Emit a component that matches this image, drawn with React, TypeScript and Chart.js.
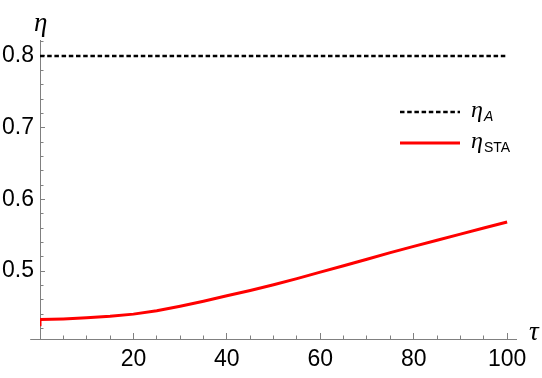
import React, { useEffect, useRef } from "react";
import { Chart, registerables } from "chart.js";

Chart.register(...registerables);

// ---- data ----
const tauSTA = [0, 0, 5, 10, 15, 20, 25, 30, 35, 40, 45, 50, 55, 60, 65, 70, 75, 80, 85, 90, 95, 100];
const etaSTA = [0.423, 0.4325, 0.4333, 0.4348, 0.437, 0.44, 0.4447, 0.451, 0.458, 0.4655, 0.473, 0.481, 0.4895, 0.4985, 0.5075, 0.5165, 0.5257, 0.5345, 0.543, 0.5515, 0.56, 0.5685];
const tauA = [0, 100];
const etaA = [0.8, 0.8];

const xMajorTicks = [20, 40, 60, 80, 100];
const xMinorTicks = [5, 10, 15, 25, 30, 35, 45, 50, 55, 65, 70, 75, 85, 90, 95];
const yMajorTicks = [0.5, 0.6, 0.7, 0.8];
const yTickLabels = ["0.5", "0.6", "0.7", "0.8"];
const yMinorTicks = [0.42, 0.44, 0.46, 0.48, 0.52, 0.54, 0.56, 0.58, 0.62, 0.64, 0.66, 0.68, 0.72, 0.74, 0.76, 0.78, 0.82];

const legendLabels = [
  { main: "η", sub: "A", subItalic: true },
  { main: "η", sub: "STA", subItalic: false },
];

const X_MIN = 0;
const X_MAX = 101.9;
const X_AXIS_START = -2.1;
const Y_MIN = 0.4053;
const Y_MAX = 0.8223;

const AXIS_GRAY = "#808080";
const TICK_FONT = { family: "'Liberation Sans', Arial, sans-serif", size: 23 };

const decorPlugin = {
  id: "decor",
  afterDraw(chart: any) {
    const ctx = chart.ctx as CanvasRenderingContext2D;
    const xs = chart.scales.x;
    const ys = chart.scales.y;
    ctx.save();
    // extension of x axis to the left of the y axis
    const yb = ys.getPixelForValue(Y_MIN);
    ctx.strokeStyle = AXIS_GRAY;
    ctx.lineWidth = 1;
    ctx.beginPath();
    ctx.moveTo(xs.getPixelForValue(X_AXIS_START), Math.round(yb) + 0.5);
    ctx.lineTo(xs.getPixelForValue(X_MIN), Math.round(yb) + 0.5);
    ctx.stroke();

    // axis titles
    ctx.fillStyle = "#000";
    ctx.textAlign = "left";
    ctx.textBaseline = "alphabetic";
    ctx.font = "italic 27px 'Liberation Serif', serif";
    ctx.fillText("η", 34, 31);
    ctx.fillText("τ", 529, 340);

    // legend
    const ds = chart.data.datasets;
    const rows = [112, 143];
    rows.forEach((ry, i) => {
      const d = ds[i];
      ctx.beginPath();
      ctx.strokeStyle = d.borderColor;
      ctx.lineWidth = d.borderWidth;
      ctx.setLineDash(d.borderDash || []);
      ctx.moveTo(400, ry);
      ctx.lineTo(460, ry);
      ctx.stroke();
      ctx.setLineDash([]);
      const lab = legendLabels[i];
      ctx.font = "italic 24px 'Liberation Serif', serif";
      ctx.fillStyle = "#000";
      ctx.fillText(lab.main, 471, ry + 5);
      const w = ctx.measureText(lab.main).width;
      ctx.font = (lab.subItalic ? "italic " : "") + "14px 'Liberation Sans', Arial, sans-serif";
      ctx.fillText(lab.sub, 471 + w + 1, ry + 9);
    });
    ctx.restore();
  },
};

export default function App() {
  const ref = useRef<HTMLCanvasElement | null>(null);
  useEffect(() => {
    const canvas = ref.current;
    if (!canvas) return;
    const chart = new Chart(canvas, {
      type: "line",
      data: {
        datasets: [
          {
            label: "ηA",
            data: tauA.map((x, i) => ({ x, y: etaA[i] })),
            borderColor: "#000000",
            borderWidth: 2.5,
            borderDash: [4.5, 2.7],
            pointRadius: 0,
            tension: 0,
            xAxisID: "x",
            yAxisID: "y",
          },
          {
            label: "ηSTA",
            data: tauSTA.map((x, i) => ({ x, y: etaSTA[i] })),
            borderColor: "#ff0000",
            borderWidth: 3,
            pointRadius: 0,
            tension: 0,
            xAxisID: "x",
            yAxisID: "y",
          },
        ],
      },
      options: {
        responsive: false,
        animation: false,
        events: [],
        layout: { padding: { top: 40, right: 26, left: 0, bottom: 0 } },
        plugins: { legend: { display: false }, tooltip: { enabled: false } },
        scales: {
          x: {
            type: "linear",
            position: "bottom",
            weight: 1,
            min: X_MIN,
            max: X_MAX,
            afterFit: (s: any) => {
              s.height = 39;
            },
            afterBuildTicks: (s: any) => {
              s.ticks = xMajorTicks.map((v) => ({ value: v }));
            },
            grid: {
              drawOnChartArea: false,
              drawTicks: true,
              tickLength: -6,
              tickColor: AXIS_GRAY,
              tickWidth: 1,
              color: AXIS_GRAY,
            },
            border: { display: true, color: AXIS_GRAY, width: 1 },
            ticks: {
              padding: 13,
              color: "#000",
              font: TICK_FONT,
              autoSkip: false,
              maxRotation: 0,
              callback: (v: any) => String(v),
            },
          },
          xMinor: {
            type: "linear",
            position: "bottom",
            weight: 0,
            min: X_MIN,
            max: X_MAX,
            afterFit: (s: any) => {
              s.height = 0;
            },
            afterBuildTicks: (s: any) => {
              s.ticks = xMinorTicks.map((v) => ({ value: v }));
            },
            grid: {
              drawOnChartArea: false,
              drawTicks: true,
              tickLength: -3.5,
              tickColor: AXIS_GRAY,
              tickWidth: 1,
            },
            border: { display: false },
            ticks: { display: false, autoSkip: false },
          },
          y: {
            type: "linear",
            position: "left",
            weight: 1,
            min: Y_MIN,
            max: Y_MAX,
            afterFit: (s: any) => {
              s.width = 40;
            },
            afterBuildTicks: (s: any) => {
              s.ticks = yMajorTicks.map((v) => ({ value: v }));
            },
            grid: {
              drawOnChartArea: false,
              drawTicks: true,
              tickLength: -5,
              tickColor: AXIS_GRAY,
              tickWidth: 1,
              color: AXIS_GRAY,
            },
            border: { display: true, color: AXIS_GRAY, width: 1 },
            ticks: {
              padding: 11,
              color: "#000",
              font: TICK_FONT,
              autoSkip: false,
              callback: (v: any) => {
                const i = yMajorTicks.findIndex((t) => Math.abs(t - v) < 1e-9);
                return i >= 0 ? yTickLabels[i] : "";
              },
            },
          },
          yMinor: {
            type: "linear",
            position: "left",
            weight: 0,
            min: Y_MIN,
            max: Y_MAX,
            afterFit: (s: any) => {
              s.width = 0;
            },
            afterBuildTicks: (s: any) => {
              s.ticks = yMinorTicks.map((v) => ({ value: v }));
            },
            grid: {
              drawOnChartArea: false,
              drawTicks: true,
              tickLength: -3.5,
              tickColor: AXIS_GRAY,
              tickWidth: 1,
            },
            border: { display: false },
            ticks: { display: false, autoSkip: false },
          },
        },
      },
      plugins: [decorPlugin],
    } as any);
    return () => chart.destroy();
  }, []);

  return (
    <div style={{ position: "absolute", left: 0, top: 0, width: 542, height: 378, background: "#fff" }}>
      <canvas ref={ref} width={542} height={378} style={{ display: "block", width: 542, height: 378 }} />
    </div>
  );
}
